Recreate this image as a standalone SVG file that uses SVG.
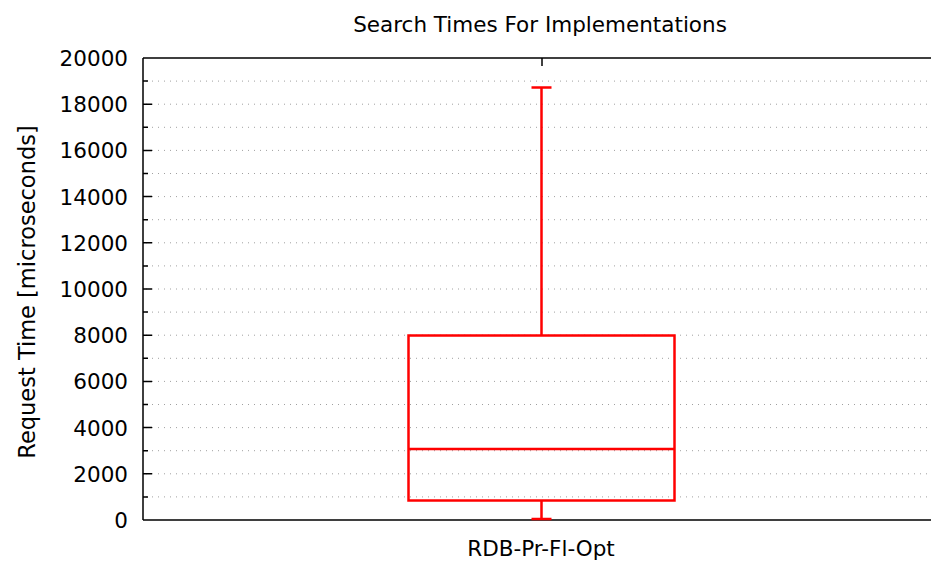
<svg xmlns="http://www.w3.org/2000/svg" width="931" height="562" viewBox="0 0 931 562">
  <style>
    text { font-family: "DejaVu Sans", "Liberation Sans", sans-serif; fill: #000; font-size: 21.5px; }
    .tick { text-anchor: end; }
    .ylabel { font-size: 22.5px; text-anchor: middle; }
    .grid { stroke: #a0a0a0; stroke-width: 1; stroke-dasharray: 1 5; fill: none; }
    .axis { stroke: #000; stroke-width: 1.5; fill: none; }
    .box { stroke: #ff0000; stroke-width: 2.5; fill: none; }
  </style>
  <rect width="931" height="562" fill="#fff"/>

  <!-- horizontal grid every 1000 -->
  <g id="grid">
    <path class="grid" d="M146 496.9H931M146 473.8H931M146 450.7H931M146 427.6H931M146 404.5H931M146 381.4H931M146 358.3H931M146 335.2H931M146 312.1H931M146 289H931M146 265.9H931M146 242.8H931M146 219.7H931M146 196.6H931M146 173.5H931M146 150.4H931M146 127.3H931M146 104.2H931M146 81.1H931"/>
  </g>

  <!-- axes frame and ticks -->
  <g id="axes">
    <path class="axis" d="M143 58V520M143 58H931M143 520H931"/>
    <path class="axis" d="M143 473.8h9M143 427.6h9M143 381.4h9M143 335.2h9M143 289h9M143 242.8h9M143 196.6h9M143 150.4h9M143 104.2h9"/>
    <path class="axis" d="M143 496.9h5M143 450.7h5M143 404.5h5M143 358.3h5M143 312.1h5M143 265.9h5M143 219.7h5M143 173.5h5M143 127.3h5M143 81.1h5"/>
    <path class="axis" d="M542 58v8"/>
  </g>

  <g id="y-labels">
    <text class="tick" x="128" y="528">0</text>
    <text class="tick" x="128" y="481.8">2000</text>
    <text class="tick" x="128" y="435.6">4000</text>
    <text class="tick" x="128" y="389.4">6000</text>
    <text class="tick" x="128" y="343.2">8000</text>
    <text class="tick" x="128" y="297">10000</text>
    <text class="tick" x="128" y="250.8">12000</text>
    <text class="tick" x="128" y="204.6">14000</text>
    <text class="tick" x="128" y="158.4">16000</text>
    <text class="tick" x="128" y="112.2">18000</text>
    <text class="tick" x="128" y="66">20000</text>
  </g>

  <!-- box plot -->
  <g id="boxplot">
    <rect class="box" x="408.5" y="335.5" width="266" height="165"/>
    <path class="box" d="M408.5 449H674.5"/>
    <path class="box" d="M541.5 335.5V87.5M531.5 87.5H551.5"/>
    <path class="box" d="M541.5 500.5V519M531.5 519H551.5"/>
  </g>

  <text x="540" y="32" text-anchor="middle">Search Times For Implementations</text>
  <text x="541" y="556" text-anchor="middle">RDB-Pr-Fl-Opt</text>
  <text class="ylabel" transform="translate(35 292) rotate(-90)">Request Time [microseconds]</text>
</svg>
